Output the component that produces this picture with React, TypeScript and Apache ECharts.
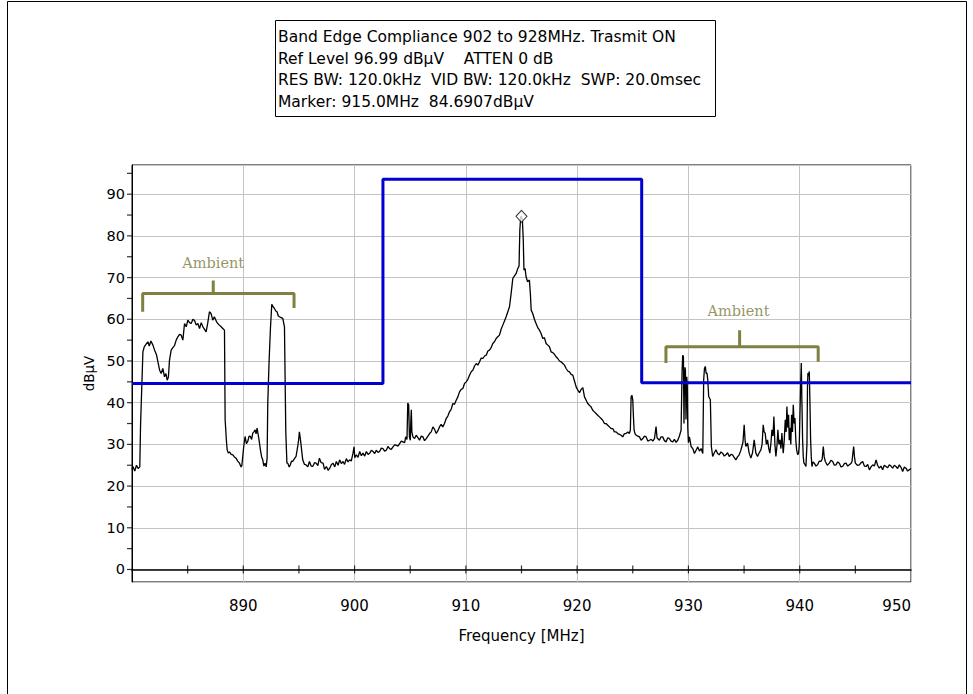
import React, { useEffect, useRef } from "react";
import * as echarts from "echarts";

// Measured trace, [frequency MHz, level dBµV]
const TRACE_880_897: number[][] = [
  [880.0, 24.0], [880.08, 24.7], [880.25, 23.6], [880.4, 25.0], [880.55, 24.2], [880.7, 24.6],
  [880.77, 34.7], [880.98, 52.2], [881.1, 53.4], [881.25, 54.0], [881.43, 54.6], [881.55, 53.6],
  [881.7, 54.8], [881.88, 53.8], [882.03, 52.6], [882.2, 51.5], [882.33, 49.8], [882.48, 47.8],
  [882.62, 47.0], [882.77, 48.2], [882.92, 46.2], [883.05, 47.0], [883.16, 45.4], [883.27, 46.1],
  [883.37, 50.2], [883.52, 52.6], [883.67, 53.2], [883.82, 53.7], [883.97, 55.0], [884.12, 55.8],
  [884.27, 56.4], [884.42, 56.2], [884.57, 55.0], [884.72, 59.0], [884.87, 58.2], [885.02, 59.8],
  [885.17, 59.2], [885.32, 59.0], [885.47, 60.0], [885.62, 59.7], [885.77, 58.6], [885.92, 59.0],
  [886.07, 57.8], [886.22, 59.2], [886.37, 58.2], [886.52, 57.6], [886.66, 57.0], [886.8, 59.0],
  [886.96, 61.8], [887.1, 61.4], [887.26, 59.8], [887.4, 60.6], [887.47, 60.2], [887.6, 59.4],
  [887.71, 59.0], [887.85, 58.6], [888.01, 58.2], [888.16, 57.8], [888.31, 57.4], [888.37, 35.9],
  [888.48, 31.0], [888.55, 28.7], [888.66, 27.9], [888.76, 28.2], [888.91, 27.6], [889.06, 27.5],
  [889.2, 27.0], [889.35, 26.7], [889.5, 26.0], [889.66, 25.5], [889.8, 24.6], [889.87, 24.9],
  [890.04, 29.5], [890.16, 31.9], [890.28, 30.2], [890.4, 30.7], [890.52, 32.0], [890.64, 31.9],
  [890.75, 31.2], [890.85, 32.7], [890.96, 33.0], [891.06, 33.5], [891.15, 32.5], [891.24, 33.9],
  [891.39, 31.5], [891.54, 28.7], [891.65, 27.0], [891.75, 26.3], [891.85, 24.8], [891.96, 25.5],
  [892.06, 24.6], [892.14, 26.7], [892.2, 39.9], [892.32, 50.0], [892.44, 57.8], [892.56, 63.6],
  [892.68, 63.0], [892.8, 62.6], [892.92, 62.0], [893.03, 61.8], [893.15, 60.8], [893.25, 60.6],
  [893.4, 60.4], [893.55, 60.2], [893.7, 58.2], [893.82, 33.0], [893.92, 25.5], [894.0, 25.5],
  [894.12, 24.6], [894.23, 25.1], [894.34, 26.0], [894.44, 25.9], [894.6, 26.6], [894.74, 27.1],
  [894.89, 29.5], [894.97, 31.0], [895.04, 33.0], [895.12, 31.5], [895.19, 29.9], [895.34, 26.3],
  [895.5, 25.2], [895.64, 25.1], [895.8, 24.6], [895.94, 25.9], [896.1, 24.8], [896.24, 24.7],
  [896.4, 25.6], [896.54, 25.5], [896.7, 24.9], [896.84, 26.7],
];

const TRACE_897_925: number[][] = [
  [897.0, 25.6], [897.17, 25.5], [897.3, 24.0], [897.47, 24.7], [897.62, 23.8], [897.77, 24.3],
  [897.92, 25.2], [898.07, 25.5], [898.22, 24.6], [898.36, 25.9], [898.52, 25.0], [898.66, 26.3],
  [898.81, 25.4], [898.96, 25.9], [899.1, 25.2], [899.26, 26.6], [899.41, 25.8], [899.56, 26.3],
  [899.7, 26.0], [899.86, 27.9], [899.95, 29.4], [900.02, 26.8], [900.16, 27.5], [900.31, 26.9],
  [900.46, 28.3], [900.61, 27.3], [900.76, 27.9], [900.91, 27.2], [901.06, 28.3], [901.21, 27.6],
  [901.36, 27.9], [901.51, 28.6], [901.66, 28.3], [901.81, 27.8], [901.95, 28.6], [902.1, 28.1],
  [902.25, 28.3], [902.4, 29.1], [902.55, 29.0], [902.7, 28.4], [902.85, 28.6], [903.0, 29.5],
  [903.15, 29.0], [903.3, 28.8], [903.45, 29.4], [903.6, 29.9], [903.75, 29.8], [903.9, 29.6],
  [904.05, 30.2], [904.2, 30.8], [904.35, 30.6], [904.5, 30.4], [904.59, 31.8], [904.71, 31.2],
  [904.78, 39.9], [904.86, 39.5], [904.93, 31.8], [905.01, 31.0], [905.06, 36.0], [905.1, 38.3],
  [905.15, 33.0], [905.24, 31.8], [905.39, 31.4], [905.54, 32.2], [905.69, 31.6], [905.84, 31.0],
  [905.99, 32.0], [906.14, 31.8], [906.29, 30.9], [906.44, 31.4], [906.59, 32.0], [906.74, 32.6],
  [906.89, 33.0], [907.04, 34.2], [907.19, 33.6], [907.34, 32.6], [907.49, 33.3], [907.63, 34.2],
  [907.78, 34.8], [907.93, 34.2], [908.08, 35.0], [908.23, 36.2], [908.38, 36.8], [908.53, 37.8],
  [908.68, 38.4], [908.83, 39.8], [908.98, 39.6], [909.13, 40.6], [909.28, 41.4], [909.43, 42.6],
  [909.58, 43.2], [909.73, 43.4], [909.88, 44.6], [910.03, 45.0], [910.18, 45.6], [910.33, 46.6],
  [910.48, 47.4], [910.63, 47.8], [910.78, 48.8], [910.93, 49.4], [911.08, 49.0], [911.23, 49.8],
  [911.38, 50.7], [911.53, 50.6], [911.68, 51.2], [911.83, 51.4], [911.98, 52.4], [912.12, 52.6],
  [912.27, 53.2], [912.42, 54.2], [912.57, 54.6], [912.72, 55.4], [912.87, 55.8], [913.02, 56.2],
  [913.17, 57.6], [913.32, 58.6], [913.47, 59.6], [913.62, 60.6], [913.77, 61.8], [913.92, 63.0],
  [914.07, 66.2], [914.22, 69.8], [914.37, 70.4], [914.52, 71.0], [914.67, 72.2], [914.78, 72.8],
  [914.85, 81.4], [914.93, 84.6], [915.0, 84.69], [915.08, 83.8], [915.16, 79.0], [915.22, 71.8],
  [915.32, 72.2], [915.41, 70.2], [915.55, 69.0], [915.71, 69.4], [915.8, 66.0], [915.87, 62.2],
  [916.01, 61.4], [916.16, 60.0], [916.31, 59.0], [916.46, 58.0], [916.61, 57.4], [916.76, 56.6],
  [916.91, 55.4], [917.06, 55.6], [917.21, 54.2], [917.36, 53.8], [917.51, 53.4], [917.66, 52.2],
  [917.81, 52.0], [917.96, 51.6], [918.11, 51.0], [918.26, 50.6], [918.41, 50.0], [918.56, 49.8],
  [918.71, 49.4], [918.86, 49.0], [919.01, 48.2], [919.16, 47.6], [919.31, 47.4], [919.46, 46.8],
  [919.61, 46.6], [919.76, 45.2], [919.91, 43.8], [920.06, 43.0], [920.21, 42.4], [920.36, 43.2],
  [920.51, 43.6], [920.66, 41.4], [920.81, 40.6], [920.95, 39.8], [921.1, 39.4], [921.25, 39.0],
  [921.4, 38.2], [921.55, 37.8], [921.7, 37.4], [921.85, 37.0], [922.0, 36.6], [922.15, 36.2],
  [922.3, 35.8], [922.45, 35.0], [922.6, 35.0], [922.75, 34.6], [922.9, 34.2], [923.05, 33.8],
  [923.2, 33.8], [923.35, 33.0], [923.5, 33.0], [923.65, 32.6], [923.8, 32.4], [923.95, 32.2],
  [924.1, 31.8], [924.25, 32.6], [924.4, 32.6], [924.55, 33.0], [924.69, 32.6], [924.78, 33.4],
  [924.85, 41.4], [924.92, 41.8], [925.0, 40.6],
];

const TRACE_925_950: number[][] = [
  [925.06, 36.6], [925.12, 33.4], [925.2, 32.6], [925.3, 32.2], [925.45, 32.0], [925.6, 31.8],
  [925.75, 31.0], [925.9, 31.4], [926.05, 32.0], [926.2, 31.8], [926.35, 30.8], [926.5, 31.0],
  [926.65, 31.2], [926.8, 30.8], [926.95, 31.4], [927.09, 34.3], [927.18, 31.6], [927.39, 31.0],
  [927.54, 31.8], [927.69, 31.8], [927.84, 30.9], [927.99, 30.6], [928.14, 31.6], [928.29, 31.4],
  [928.44, 30.8], [928.59, 30.6], [928.74, 31.2], [928.89, 30.5], [929.04, 31.0], [929.19, 32.0],
  [929.34, 33.4], [929.43, 47.8], [929.49, 51.4], [929.55, 51.0], [929.6, 35.0], [929.64, 43.8],
  [929.69, 48.5], [929.73, 47.8], [929.78, 36.0], [929.85, 46.2], [929.9, 44.0], [929.94, 34.0],
  [930.0, 30.4], [930.09, 31.8], [930.24, 29.5], [930.39, 29.0], [930.54, 27.8], [930.69, 28.6],
  [930.84, 29.4], [930.99, 28.4], [931.14, 29.0], [931.29, 27.8], [931.37, 45.5], [931.44, 48.2],
  [931.52, 48.7], [931.59, 47.0], [931.67, 47.1], [931.74, 45.4], [931.82, 41.5], [931.97, 40.7],
  [932.06, 29.5], [932.18, 27.1], [932.33, 28.0], [932.47, 28.7], [932.62, 27.8], [932.77, 27.5],
  [932.92, 28.2], [933.07, 27.9], [933.22, 27.2], [933.37, 27.5], [933.52, 28.0], [933.67, 27.1],
  [933.82, 27.6], [933.97, 27.5], [934.12, 26.8], [934.26, 26.3], [934.41, 27.0], [934.56, 27.5],
  [934.7, 28.5], [934.8, 29.5], [934.9, 30.5], [935.01, 34.7], [935.09, 31.0], [935.16, 29.5],
  [935.31, 30.3], [935.46, 27.9], [935.61, 26.7], [935.76, 28.0], [935.91, 31.1], [936.06, 27.9],
  [936.21, 27.1], [936.36, 28.0], [936.51, 28.7], [936.62, 30.0], [936.72, 34.7], [936.8, 33.0],
  [936.9, 32.7], [937.0, 30.0], [937.11, 31.1], [937.22, 29.0], [937.32, 27.9], [937.42, 30.5],
  [937.5, 33.5], [937.6, 32.0], [937.68, 36.7], [937.77, 30.0], [937.86, 27.1], [937.95, 29.5],
  [938.04, 33.5], [938.13, 30.0], [938.22, 31.1], [938.31, 29.0], [938.4, 32.7], [938.46, 30.0],
  [938.52, 27.9], [938.61, 31.0], [938.7, 35.9], [938.78, 33.0], [938.85, 39.1], [938.93, 34.0],
  [939.0, 37.1], [939.06, 31.0], [939.12, 34.0], [939.2, 30.0], [939.27, 37.1], [939.35, 33.0],
  [939.42, 39.5], [939.5, 35.0], [939.57, 36.3], [939.65, 31.0], [939.72, 28.7], [939.82, 27.5],
  [939.9, 27.9], [939.96, 30.0], [940.02, 37.1], [940.08, 44.0], [940.14, 49.5], [940.2, 40.0],
  [940.26, 31.1], [940.32, 27.0], [940.38, 25.5], [940.47, 25.2], [940.56, 24.7], [940.65, 30.0],
  [940.7, 44.0], [940.74, 47.1], [940.8, 46.5], [940.86, 47.5], [940.92, 40.0], [940.98, 31.1],
  [941.04, 27.0], [941.1, 24.7], [941.2, 25.8], [941.31, 25.5], [941.46, 24.8], [941.61, 25.1],
  [941.76, 26.0], [941.91, 25.9], [942.02, 26.5], [942.12, 29.5], [942.2, 27.0], [942.3, 25.9],
  [942.48, 25.0], [942.66, 25.5], [942.81, 26.2], [942.96, 25.9], [943.11, 25.0], [943.26, 25.1],
  [943.41, 25.8], [943.56, 25.5], [943.71, 24.6], [943.86, 24.7], [944.01, 25.4], [944.16, 25.5],
  [944.31, 24.8], [944.46, 25.1], [944.6, 25.4], [944.7, 25.9], [944.78, 28.0], [944.85, 29.5],
  [944.92, 27.0], [945.0, 25.5], [945.18, 25.0], [945.36, 25.1], [945.51, 25.6], [945.66, 25.9],
  [945.81, 24.8], [945.96, 24.7], [946.11, 25.2], [946.26, 23.9], [946.41, 24.6], [946.56, 25.1],
  [946.71, 24.8], [946.86, 26.3], [947.0, 25.0], [947.15, 24.3], [947.3, 24.8], [947.45, 23.9],
  [947.6, 25.0], [947.75, 24.7], [947.9, 24.4], [948.05, 25.1], [948.2, 24.8], [948.35, 24.3],
  [948.5, 25.0], [948.65, 24.7], [948.8, 24.2], [948.95, 25.1], [949.1, 24.5], [949.25, 23.5],
  [949.4, 24.6], [949.55, 24.3], [949.7, 23.6], [949.85, 23.9], [950.0, 24.2],
];

// Limit line (band edge mask)
const LIMIT_FREQ = [880, 902.55, 902.55, 925.8, 925.8, 950];
const LIMIT_LEVEL = [44.6, 44.6, 93.6, 93.6, 44.8, 44.8];

// Marker
const MARKER_FREQ = 915.0;
const MARKER_LEVEL = 84.6907;

// Ambient brackets (data coordinates)
const AMBIENT_LEFT_FREQ = [880.96, 880.96, 887.3, 887.3, 887.3, 894.56, 894.56];
const AMBIENT_LEFT_LEVEL = [61.8, 66.2, 66.2, 69.3, 66.2, 66.2, 62.7];
const AMBIENT_RIGHT_FREQ = [927.98, 927.98, 934.6, 934.6, 934.6, 941.66, 941.66];
const AMBIENT_RIGHT_LEVEL = [49.5, 53.4, 53.4, 57.4, 53.4, 53.4, 49.8];
const AMBIENT_LABEL_FREQ = [887.3, 934.5];
const AMBIENT_LABEL_LEVEL = [73.4, 62.1];

// Axis tick positions
const X_TICKS = [885, 890, 895, 900, 905, 910, 915, 920, 925, 930, 935, 940, 945];
const Y_TICKS = [0, 5, 10, 15, 20, 25, 30, 35, 40, 45, 50, 55, 60, 65, 70, 75, 80, 85, 90, 95];

const INFO_LINES = [
  "Band Edge Compliance 902 to 928MHz. Trasmit ON",
  "Ref Level 96.99 dBµV    ATTEN 0 dB",
  "RES BW: 120.0kHz  VID BW: 120.0kHz  SWP: 20.0msec",
  "Marker: 915.0MHz  84.6907dBµV",
];

const SANS = "DejaVu Sans";

export default function App() {
  const ref = useRef<HTMLDivElement>(null);

  useEffect(() => {
    if (!ref.current) return;
    const chart = echarts.init(ref.current, undefined, { renderer: "svg" });
    const trace = [...TRACE_880_897, ...TRACE_897_925, ...TRACE_925_950];
    const limit = LIMIT_FREQ.map((f, i) => [f, LIMIT_LEVEL[i]]);
    const leftBracket = AMBIENT_LEFT_FREQ.map((f, i) => [f, AMBIENT_LEFT_LEVEL[i]]);
    const rightBracket = AMBIENT_RIGHT_FREQ.map((f, i) => [f, AMBIENT_RIGHT_LEVEL[i]]);
    const ambientLabels = AMBIENT_LABEL_FREQ.map((f, i) => [f, AMBIENT_LABEL_LEVEL[i]]);
    const lineY = [37, 58.5, 80, 101.5];

    chart.setOption({
      animation: false,
      backgroundColor: "#fff",
      grid: {
        left: 132,
        right: 62,
        top: 165,
        bottom: 112,
        show: true,
        borderColor: "#000",
        borderWidth: 1,
        backgroundColor: "transparent",
      },
      xAxis: {
        type: "value",
        min: 880,
        max: 950,
        interval: 10,
        name: "Frequency [MHz]",
        nameLocation: "middle",
        nameGap: 46,
        nameTextStyle: { fontFamily: SANS, fontSize: 15, color: "#000" },
        axisLine: { show: true, onZero: true, lineStyle: { color: "#000", width: 1.5 } },
        axisTick: { show: false },
        axisLabel: {
          fontFamily: SANS,
          fontSize: 15,
          color: "#000",
          margin: 16,
          alignMaxLabel: "right",
          formatter: (v: number) => (v === 880 ? "" : String(v)),
        },
        splitLine: { show: true, lineStyle: { color: "#c4c4c4", width: 1 } },
      },
      yAxis: {
        type: "value",
        min: -3,
        max: 97,
        splitNumber: 10,
        name: "dBµV",
        nameLocation: "middle",
        nameGap: 35,
        nameTextStyle: { fontFamily: SANS, fontSize: 13.5, color: "#000" },
        axisLine: { show: true, lineStyle: { color: "#000", width: 1 } },
        axisTick: { show: false },
        axisLabel: {
          fontFamily: SANS,
          fontSize: 14.5,
          color: "#000",
          margin: 7,
          formatter: (v: number) => (v >= 0 && v <= 90 && v % 10 === 0 ? String(v) : ""),
        },
        splitLine: { show: true, lineStyle: { color: "#c4c4c4", width: 1 } },
      },
      series: [
        {
          name: "xTicks",
          type: "scatter",
          data: X_TICKS.map((t) => [t, 0]),
          symbol: "rect",
          symbolSize: [1.2, 8],
          itemStyle: { color: "#000" },
          silent: true,
          clip: false,
          z: 5,
        },
        {
          name: "yTicks",
          type: "scatter",
          data: Y_TICKS.map((t) => [880, t]),
          symbol: "rect",
          symbolSize: [6, 1.2],
          symbolOffset: [-2, 0],
          itemStyle: { color: "#000" },
          silent: true,
          clip: false,
          z: 5,
        },
        {
          name: "Ambient L",
          type: "line",
          data: leftBracket,
          showSymbol: false,
          lineStyle: { color: "#808040", width: 3 },
          silent: true,
          z: 2,
        },
        {
          name: "Ambient R",
          type: "line",
          data: rightBracket,
          showSymbol: false,
          lineStyle: { color: "#808040", width: 3 },
          silent: true,
          z: 2,
        },
        {
          name: "Ambient labels",
          type: "scatter",
          data: ambientLabels,
          symbolSize: 0,
          silent: true,
          label: {
            show: true,
            position: "inside",
            formatter: "Ambient",
            fontFamily: "DejaVu Serif",
            fontSize: 14.5,
            color: "#7a7a3c",
          },
          z: 2,
        },
        {
          name: "Trace",
          type: "line",
          data: trace,
          showSymbol: false,
          lineStyle: { color: "#000", width: 1.3 },
          silent: true,
          z: 3,
        },
        {
          name: "Limit",
          type: "line",
          data: limit,
          showSymbol: false,
          lineStyle: { color: "#0000d0", width: 3 },
          silent: true,
          z: 4,
        },
        {
          name: "Marker",
          type: "scatter",
          data: [[MARKER_FREQ, MARKER_LEVEL]],
          symbol: "diamond",
          symbolSize: [11, 12],
          itemStyle: { color: "#fff", borderColor: "#000", borderWidth: 1 },
          silent: true,
          clip: false,
          z: 6,
        },
      ],
      graphic: [
        {
          type: "polyline",
          shape: { points: [[7.5, 694], [7.5, 1.5], [966.5, 1.5], [966.5, 694]] },
          style: { stroke: "#000", fill: null, lineWidth: 1 },
          silent: true,
        },
        {
          type: "rect",
          shape: { x: 275.5, y: 20.5, width: 440, height: 96 },
          style: { stroke: "#000", fill: "#fff", lineWidth: 1 },
          silent: true,
        },
        ...INFO_LINES.map((text, i) => ({
          type: "text",
          x: 278,
          y: lineY[i],
          style: {
            text,
            fill: "#000",
            font: `15.5px "${SANS}"`,
            textAlign: "left",
            textVerticalAlign: "middle",
            whiteSpace: "pre",
          },
          silent: true,
        })),
      ],
    });

    return () => chart.dispose();
  }, []);

  return (
    <div
      ref={ref}
      style={{ position: "absolute", left: 0, top: 0, width: 973, height: 694, background: "#fff" }}
    />
  );
}
